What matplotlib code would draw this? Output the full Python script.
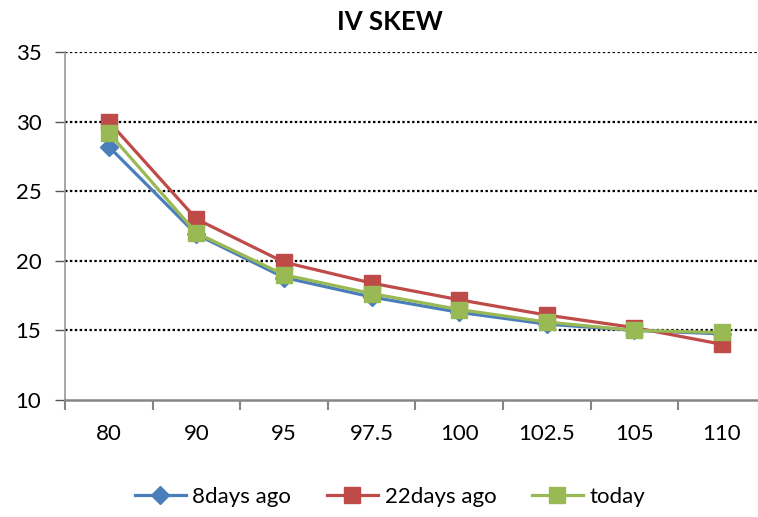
import matplotlib
matplotlib.use("Agg")
import matplotlib.pyplot as plt
import numpy as np

categories = ["80", "90", "95", "97.5", "100", "102.5", "105", "110"]
days8 = [28.2, 21.9, 18.8, 17.4, 16.3, 15.45, 15.0, 14.75]
days22 = [30.0, 23.0, 19.9, 18.4, 17.2, 16.1, 15.2, 14.0]
today = [29.2, 22.0, 19.0, 17.65, 16.5, 15.6, 15.0, 14.85]

plt.rcParams['font.family'] = ['Lato', 'DejaVu Sans']

fig = plt.figure(figsize=(7.58, 5.17), dpi=100)
ax = fig.add_axes([65/758, 117/517, 700.8/758, 348/517])

x = np.arange(len(categories))
ax.plot(x, days8, color='#4A7EBB', lw=2.3, marker='D', ms=9, label='8days ago', zorder=3)
ax.plot(x, days22, color='#BE4B48', lw=2.3, marker='s', ms=11, label='22days ago', zorder=3)
ax.plot(x, today, color='#98B954', lw=2.3, marker='s', ms=11, label='today', zorder=4)

ax.set_xlim(-0.5, len(categories) - 0.5)
ax.set_ylim(10, 35)
ax.set_yticks([10, 15, 20, 25, 30, 35])
ax.tick_params(axis='y', labelsize=16, length=7, width=1, color='#555555', direction='out', pad=10)

ax.set_xticks(np.arange(len(categories) + 1) - 0.5)
ax.set_xticklabels([])
ax.set_xticks(x, minor=True)
ax.set_xticklabels(categories, minor=True)
ax.tick_params(axis='x', which='major', length=7, width=1.5, color='#868686', direction='out')
ax.tick_params(axis='x', which='minor', length=0, labelsize=16, pad=17)

for yv in [15, 20, 25, 30, 35]:
    ax.axhline(yv, color='black', lw=1.6, ls=(0, (1.1, 1.1)), zorder=1)

ax.spines['top'].set_visible(False)
ax.spines['right'].set_visible(False)
ax.spines['bottom'].set_color('#868686')
ax.spines['bottom'].set_linewidth(1.8)
ax.spines['left'].set_color('#999999')
ax.spines['left'].set_linestyle((0, (1, 1)))
ax.spines['left'].set_linewidth(1.2)

fig.text(390/758, 1 - 22/517, 'IV SKEW', ha='center', va='center', fontsize=18.5, fontweight='bold')

handles, labels = ax.get_legend_handles_labels()
fig.legend(handles, labels, loc='center', bbox_to_anchor=(390/758, 1 - 497/517), ncol=3,
           frameon=False, fontsize=16, handlelength=2.3, columnspacing=1.6, handletextpad=0.3)

fig.savefig('out.png', dpi=100)
